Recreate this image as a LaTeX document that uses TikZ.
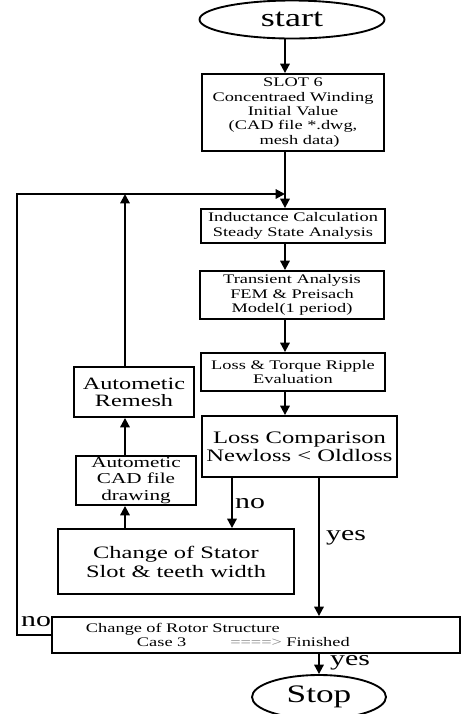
\documentclass[tikz,border=0pt]{standalone}
\usepackage{fontspec}
\setmainfont{Liberation Serif}[FakeStretch=1.4]
\usetikzlibrary{shapes}
\usetikzlibrary{math}
\usetikzlibrary{arrows.meta}

\tikzset{
	box/.style = {draw, line width=1.6pt, align=center, inner sep=0pt},
	oval/.style = {draw, ellipse, line width=1.6pt, inner sep=0pt},
	flow/.style = {line width=1.7pt, -{Triangle[length=2.8mm,width=2.8mm]}},
	lbl/.style = {font=\fontsize{18.2}{18.2}\selectfont, inner sep=0pt, anchor=base west},
	smalltxt/.style = {font=\fontsize{11.2}{12.2}\selectfont}
}

\begin{document}
\begin{tikzpicture}[x=0.03cm, y=-0.03cm]

	\useasboundingbox (0,0) rectangle (461,714);
	\clip (0,0) rectangle (461,714);

	\tikzmath{\xa = 285;};
	\tikzmath{\xb = 125;};
	\tikzmath{\xc = 232;};
	\tikzmath{\xd = 319;};
	\coordinate (spine) at (\xa,0);
	\coordinate (side) at (\xb,0);
	\coordinate (nocol) at (\xc,0);
	\coordinate (yescol) at (\xd,0);
	\coordinate (merge) at (\xa,194);
	\coordinate (back) at (17,635);

	\node[oval, minimum width=5.55cm, minimum height=1.14cm, font=\fontsize{22}{22}\selectfont] (start) at (292,19.5) {start};
	\node[box, smalltxt, minimum width=5.46cm, minimum height=2.31cm] (slot) at (293,112.5) {SLOT 6\\Concentraed Winding\\Initial Value\\(CAD file *.dwg,\\\hspace*{1em}mesh data)};
	\node[box, smalltxt, minimum width=5.52cm, minimum height=1.02cm] (ind) at (293,226) {Inductance Calculation\\Steady State Analysis};
	\node[box, smalltxt, minimum width=5.52cm, minimum height=1.44cm] (trans) at (292,295) {Transient Analysis\\FEM \& Preisach\\Model(1 period)};
	\node[box, smalltxt, minimum width=5.52cm, minimum height=1.14cm] (lossev) at (293,372) {Loss \& Torque Ripple\\Evaluation};
	\node[box, minimum width=5.85cm, minimum height=1.83cm, font=\fontsize{15}{15}\selectfont] (comp) at (299.5,446.5) {Loss Comparison\\Newloss < Oldloss};
	\node[box, minimum width=3.6cm, minimum height=1.5cm, font=\fontsize{14.8}{14.7}\selectfont] (remesh) at (134,392) {Autometic\\Remesh};
	\node[box, minimum width=3.6cm, minimum height=1.47cm, font=\fontsize{12.9}{14}\selectfont] (cad) at (136,480.5) {Autometic\\CAD file\\drawing};
	\node[box, minimum width=7.08cm, minimum height=1.95cm, font=\fontsize{14.9}{16.2}\selectfont] (stator) at (176,561.5) {Change of Stator\\Slot \& teeth width};
	\node[box, smalltxt, align=left, text width=10.2cm, inner xsep=1.02cm, minimum height=1.08cm] (rotor) at (256,635) {Change of Rotor Structure\\\hspace*{1.53cm}Case 3\hspace*{1.32cm}{\color{gray}====>} Finished};
	\node[oval, minimum width=4.02cm, minimum height=1.32cm, font=\fontsize{21.5}{21.5}\selectfont] (stop) at (319,697) {Stop};

	\node[lbl] (lno) at (235,508) {no};
	\node[lbl] (lyes) at (326,540) {yes};
	\node[lbl] (lnoback) at (21,626) {no};
	\node[lbl] (lyesend) at (330,665) {yes};

	\draw[flow] (start.south -| spine) -- (slot.north -| spine);
	\draw[flow] (slot.south -| spine) -- (ind.north -| spine);
	\draw[flow] (ind.south -| spine) -- (trans.north -| spine);
	\draw[flow] (trans.south -| spine) -- (lossev.north -| spine);
	\draw[flow] (lossev.south -| spine) -- (comp.north -| spine);
	\draw[flow] (comp.south -| nocol) -- (stator.north -| nocol);
	\draw[flow] (comp.south -| yescol) -- (rotor.north -| yescol);
	\draw[flow] (rotor.south -| yescol) -- (stop.north);
	\draw[flow] (stator.north -| side) -- (cad.south -| side);
	\draw[flow] (cad.north -| side) -- (remesh.south -| side);
	\draw[flow] (remesh.north -| side) -- (side |- merge);
	\draw[flow] (rotor.west) -- (back) |- (merge);

\end{tikzpicture}
\end{document}
